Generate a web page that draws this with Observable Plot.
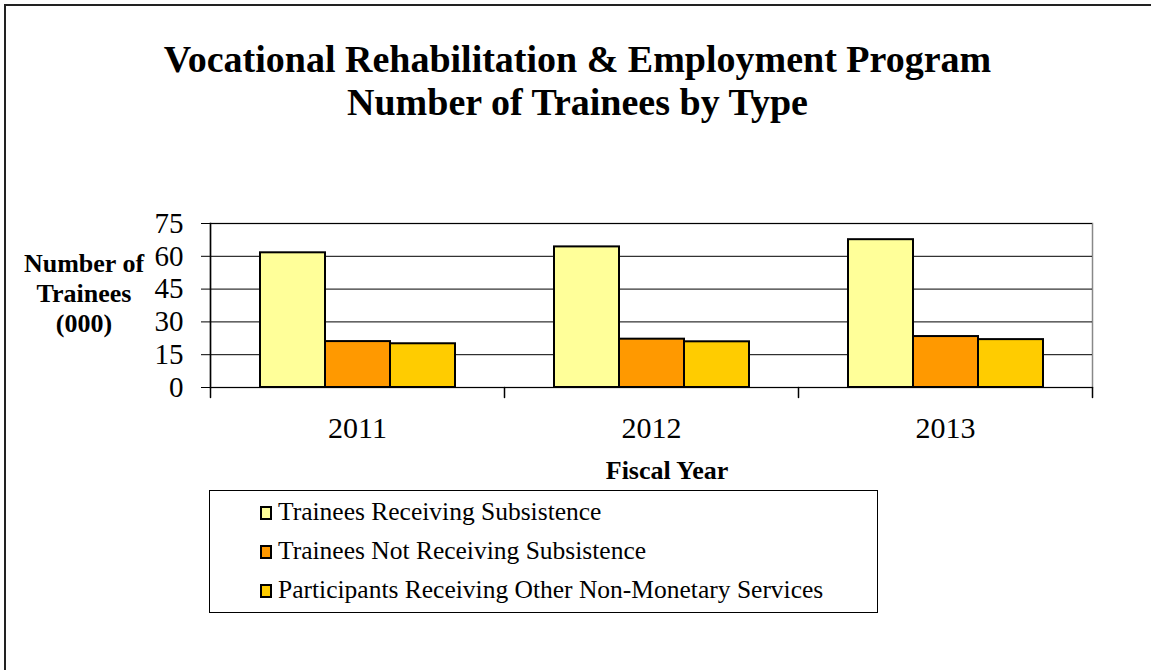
<!DOCTYPE html>
<html>
<head>
<meta charset="utf-8">
<script src="https://cdn.jsdelivr.net/npm/d3@7"></script>
<script src="https://cdn.jsdelivr.net/npm/@observablehq/plot@0.6"></script>
<style>
  html, body { margin: 0; padding: 0; background: #fff; }
  #page { position: relative; width: 1151px; height: 670px; overflow: hidden; font-family: "Liberation Serif", serif; color: #000; }
  #border { position: absolute; left: 4px; top: 4px; width: 1160px; height: 700px; border-left: 2px solid #222; border-top: 2px solid #222; }
  #title { position: absolute; left: 0; top: 38px; width: 1155px; text-align: center; font-weight: bold; font-size: 38px; line-height: 43px; }
  #ylabel { position: absolute; left: 14px; top: 249px; width: 140px; text-align: center; font-weight: bold; font-size: 26px; line-height: 30px; }
  #xlabel { position: absolute; left: 567px; top: 456px; width: 200px; text-align: center; font-weight: bold; font-size: 26px; line-height: 30px; }
  #chart { position: absolute; left: 0; top: 0; }
  #legend { position: absolute; left: 209px; top: 490px; width: 667px; height: 120px; border: 1px solid #000; padding-top: 1px; box-sizing: content-box; }
  .row { height: 39px; line-height: 39px; font-size: 25.5px; padding-left: 50px; white-space: nowrap; }
  .sw { display: inline-block; width: 8px; height: 10px; border: 2px solid #000; margin-right: 6px; vertical-align: baseline; }
</style>
</head>
<body>
<div id="page">
  <div id="border"></div>
  <div id="title">Vocational Rehabilitation &amp; Employment Program<br>Number of Trainees by Type</div>
  <div id="chart"></div>
  <div id="ylabel">Number of<br>Trainees<br>(000)</div>
  <div id="xlabel">Fiscal Year</div>
  <div id="legend"></div>
</div>
<script>
// ---- data ----
const years = ["2011", "2012", "2013"];
const seriesNames = [
  "Trainees Receiving Subsistence",
  "Trainees Not Receiving Subsistence",
  "Participants Receiving Other Non-Monetary Services"
];
const receivingSubsistence = [61.6, 64.3, 67.6];
const notReceivingSubsistence = [21.0, 22.1, 23.3];
const otherServices = [20.0, 20.9, 21.9];
const seriesColors = ["#FFFF99", "#FF9900", "#FFCC00"];
const yTicks = [0, 15, 30, 45, 60, 75];

const seriesValues = [receivingSubsistence, notReceivingSubsistence, otherServices];
const data = years.flatMap((year, i) =>
  seriesNames.map((series, j) => ({year, series, value: seriesValues[j][i]}))
);

const lineShape = {draw(context, l) { context.moveTo(0, 0); context.lineTo(0, -l); }};

const chart = Plot.plot({
  width: 1151,
  height: 460,
  marginTop: 223,
  marginBottom: 73,
  marginLeft: 209,
  marginRight: 58,
  style: {fontFamily: "'Liberation Serif', serif", color: "#000", background: "transparent", overflow: "visible"},
  fx: {domain: years, padding: 0},
  x: {domain: seriesNames, paddingInner: 0, paddingOuter: 0.745, axis: null},
  y: {domain: [0, 75]},
  color: {domain: seriesNames, range: seriesColors},
  marks: [
    Plot.frame({facet: "super", stroke: "#888", strokeWidth: 1.5}),
    Plot.gridY(yTicks, {stroke: "#000", strokeOpacity: 1}),
    Plot.frame({facet: "super", anchor: "left", stroke: "#000", strokeWidth: 1.5}),
    Plot.barY(data, {fx: "year", x: "series", y: "value", fill: "series", stroke: "#000", strokeWidth: 2}),
    Plot.axisY({ticks: yTicks, tickSize: 9, tickPadding: 18, fontSize: 29, label: null, stroke: "#000"}),
    Plot.axisFx({anchor: "bottom", tickSize: 0, tickPadding: 29, fontSize: 30, label: null}),
    Plot.vector(years, {fx: d => d, frameAnchor: "bottom-left", length: 10, rotate: 180, anchor: "start", shape: lineShape, stroke: "#000"}),
    Plot.vector(years.slice(-1), {fx: d => d, frameAnchor: "bottom-right", length: 10, rotate: 180, anchor: "start", shape: lineShape, stroke: "#000"})
  ]
});
document.getElementById("chart").appendChild(chart);

// ---- legend ----
const legend = document.getElementById("legend");
seriesNames.forEach((name, j) => {
  const row = document.createElement("div");
  row.className = "row";
  const sw = document.createElement("span");
  sw.className = "sw";
  sw.style.background = seriesColors[j];
  row.appendChild(sw);
  row.appendChild(document.createTextNode(name));
  legend.appendChild(row);
});
</script>
</body>
</html>
